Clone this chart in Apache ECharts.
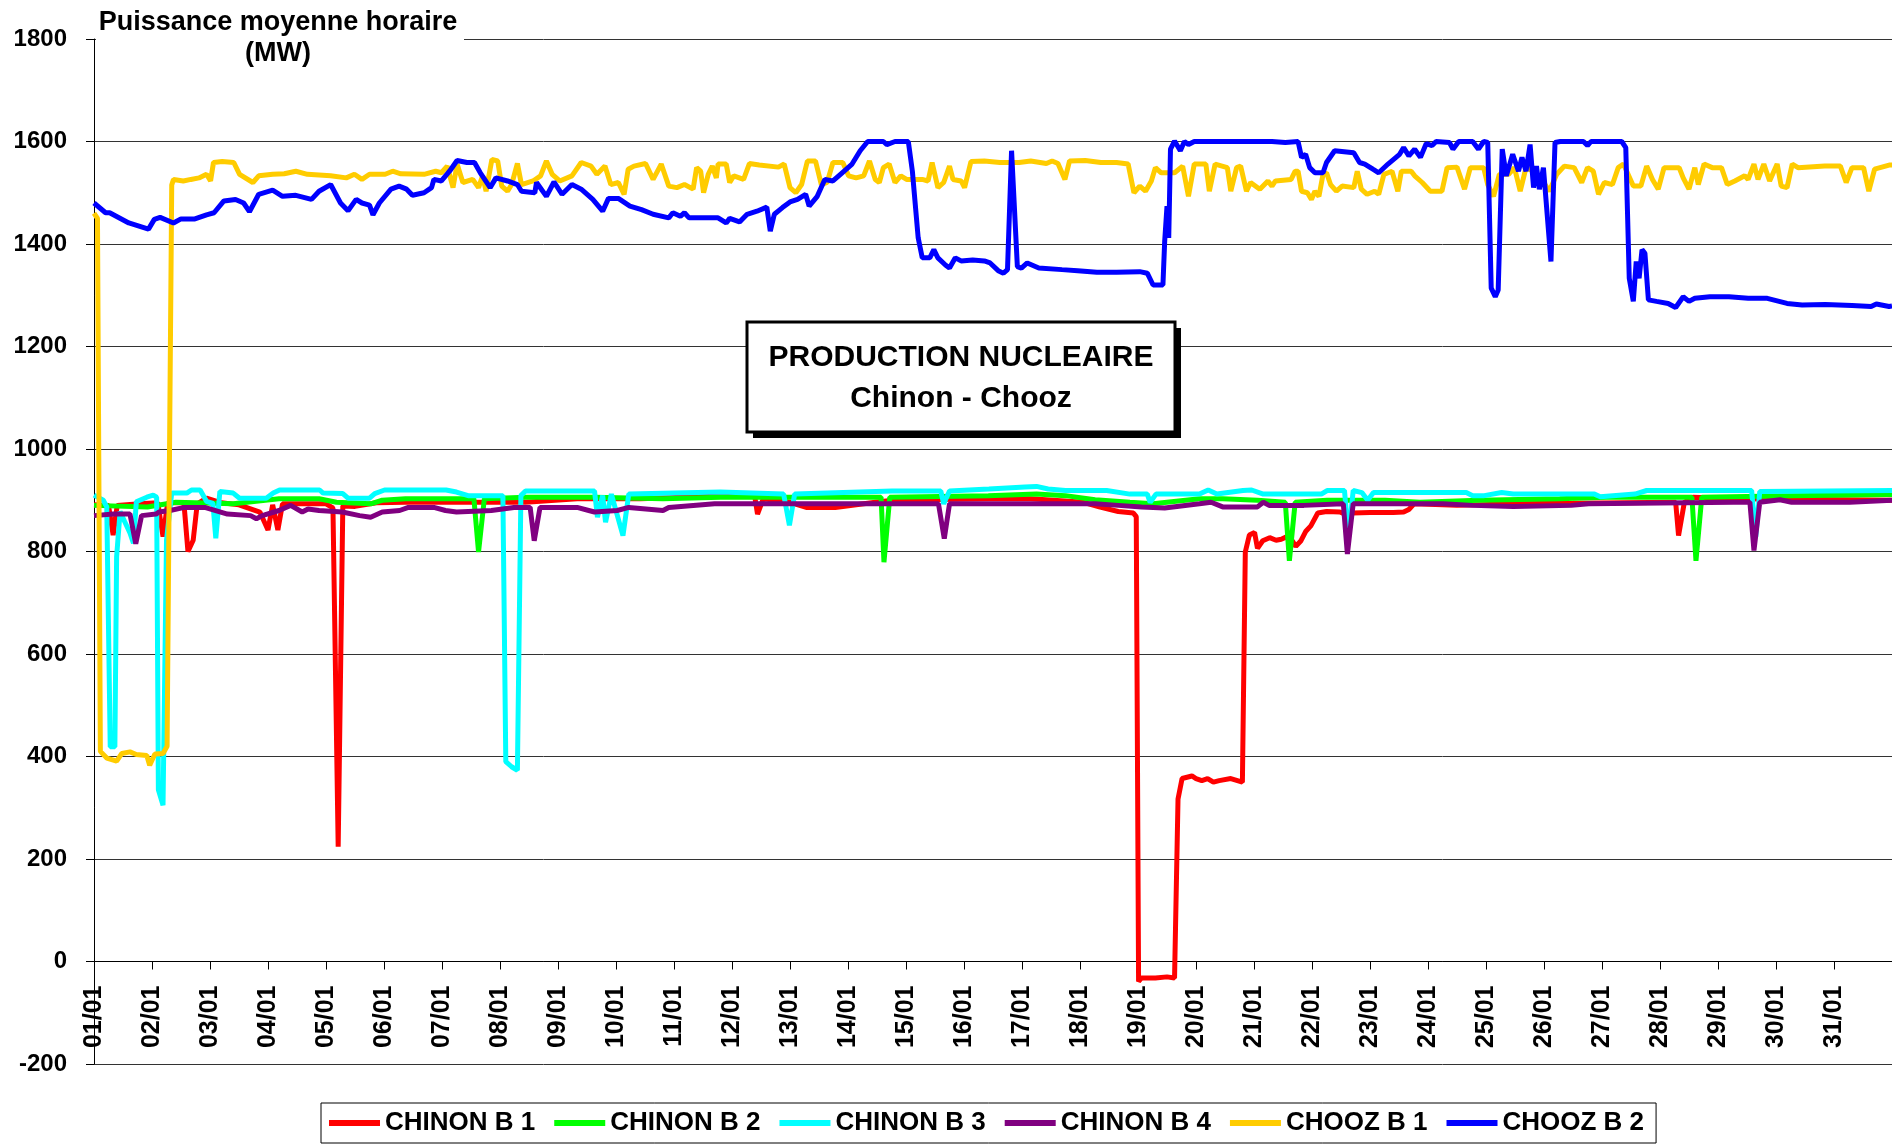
<!DOCTYPE html>
<html>
<head>
<meta charset="utf-8">
<script src="https://cdn.jsdelivr.net/npm/echarts@6/dist/echarts.min.js"></script>
<style>
html,body{margin:0;padding:0;background:#fff;}
#chart{width:1892px;height:1144px;}
</style>
</head>
<body>
<div id="chart"></div>
<script>
// Day index (0 = 01/01 00:00) and power in MW
const dayLabels = ['01/01','02/01','03/01','04/01','05/01','06/01','07/01','08/01','09/01','10/01',
  '11/01','12/01','13/01','14/01','15/01','16/01','17/01','18/01','19/01','20/01',
  '21/01','22/01','23/01','24/01','25/01','26/01','27/01','28/01','29/01','30/01','31/01'];
const seriesNames = ['CHINON B 1','CHINON B 2','CHINON B 3','CHINON B 4','CHOOZ B 1','CHOOZ B 2'];

const chinonB1 = [[0,891],[0.25,890],[0.33,832],[0.4,890],[0.79,893],[1.1,895],[1.19,829],[1.27,895],
  [1.55,895],[1.62,800],[1.71,822],[1.78,893],[1.94,904],[2.2,895],[2.5,891],[2.86,877],[3.0,842],
  [3.08,891],[3.17,842],[3.25,893],[4.0,893],[4.12,885],[4.21,224],[4.29,889],[4.5,888],[4.87,895],
  [5.37,896],[6.25,896],[6.85,896],[7.44,896],[8.33,903],[9.42,903],[10.9,909],[11.39,909],[11.44,873],
  [11.54,903],[12.0,896],[12.28,886],[12.78,886],[13.47,896],[13.77,900],[15.42,903],[16.15,903],
  [17.06,896],[17.33,887],[17.66,878],[17.92,875],[17.97,868],[18.01,-39],[18.06,-32],[18.3,-32],
  [18.5,-30],[18.63,-32],[18.69,317],[18.76,357],[18.93,362],[19.0,357],[19.1,353],[19.2,357],[19.3,350],
  [19.4,353],[19.6,357],[19.8,350],[19.85,799],[19.92,832],[20.01,837],[20.06,806],[20.15,821],[20.27,827],
  [20.38,822],[20.47,824],[20.55,828],[20.66,821],[20.72,810],[20.81,821],[20.89,839],[20.98,850],[21.1,875],
  [21.25,878],[21.48,877],[21.61,871],[21.7,875],[22.0,876],[22.4,876],[22.58,877],[22.67,882],[22.76,893],
  [23.5,890],[24.5,893],[25.5,894],[27.27,896],[27.32,831],[27.42,896],[27.57,906],[28.27,903],[31,900]];

const chinonB2 = [[0,890],[0.92,887],[1.41,896],[2.4,893],[3.19,903],[3.88,903],[4.18,896],[4.77,893],
  [4.97,900],[5.37,903],[6.55,903],[6.63,799],[6.73,903],[7.44,906],[8.63,906],[9.81,903],[10.8,906],
  [13.57,906],[13.62,779],[13.72,906],[15.42,909],[16.25,912],[16.75,909],[17.26,901],[17.86,896],
  [18.26,893],[19.06,903],[19.46,903],[20.06,900],[20.54,896],[20.61,782],[20.71,896],[21.26,900],
  [22.26,900],[22.86,896],[23.87,900],[25.27,903],[26.07,906],[27.55,906],[27.62,782],[27.72,906],
  [29.27,909],[31,911]];

const chinonB3 = [[0,910],[0.16,900],[0.22,887],[0.28,419],[0.36,419],[0.39,790],[0.45,878],[0.53,858],
  [0.62,836],[0.68,816],[0.73,897],[0.91,906],[1.02,910],[1.08,906],[1.11,335],[1.19,305],[1.25,822],
  [1.34,914],[1.6,914],[1.68,920],[1.83,920],[1.94,898],[2.05,894],[2.1,826],[2.17,917],[2.4,914],
  [2.51,904],[2.97,904],[3.09,914],[3.2,920],[3.89,920],[3.95,914],[4.29,913],[4.38,904],[4.75,904],
  [4.84,913],[5.01,920],[6.07,920],[6.25,916],[6.45,909],[7.05,909],[7.1,390],[7.2,380],[7.3,373],
  [7.36,909],[7.44,918],[8.63,918],[8.68,867],[8.77,909],[8.82,857],[8.92,912],[9.12,831],[9.22,912],
  [10.8,916],[11.89,912],[11.99,851],[12.08,912],[13.76,918],[14.6,918],[14.65,893],[14.75,918],
  [15.43,922],[16.05,926],[16.25,927],[16.45,922],[16.75,919],[17.46,919],[17.86,912],[18.16,912],
  [18.21,896],[18.31,912],[19.06,912],[19.21,920],[19.36,912],[19.81,919],[19.96,920],[20.16,912],
  [21.16,912],[21.26,919],[21.56,919],[21.63,828],[21.71,919],[21.86,915],[21.96,900],[22.06,915],
  [23.66,915],[23.77,909],[23.97,909],[24.27,915],[24.47,912],[25.87,912],[25.97,907],[26.57,912],
  [26.77,919],[28.58,919],[28.65,828],[28.72,917],[31,919]];

const chinonB4 = [[0,870],[0.33,873],[0.62,873],[0.72,815],[0.82,870],[1.07,873],[1.12,877],[1.31,880],
  [1.56,886],[1.91,886],[2.3,873],[2.7,870],[2.8,864],[2.9,870],[3.19,880],[3.39,890],[3.59,877],
  [3.69,883],[3.88,880],[4.28,877],[4.58,870],[4.77,867],[4.97,877],[5.27,880],[5.42,886],[5.86,886],
  [6.06,880],[6.25,877],[6.85,880],[7.24,886],[7.52,886],[7.59,821],[7.69,886],[8.33,886],[8.53,880],
  [8.63,877],[9.02,880],[9.22,886],[9.81,880],[9.91,886],[10.7,893],[14.56,893],[14.66,825],[14.75,893],
  [17.26,893],[17.66,890],[18.06,887],[18.46,885],[19.06,893],[19.26,896],[19.46,887],[20.06,887],
  [20.16,896],[20.26,890],[20.86,890],[21.54,893],[21.61,795],[21.71,893],[23.26,893],[23.77,890],
  [24.47,888],[25.47,890],[25.77,893],[28.27,896],[28.55,896],[28.62,802],[28.72,896],[29.07,901],
  [29.27,896],[30.27,896],[31,900]];

const choozB1 = [[0,1460],[0.06,1450],[0.11,410],[0.22,397],[0.39,391],[0.48,406],[0.62,409],[0.73,404],
  [0.91,402],[0.96,383],[1.05,405],[1.19,406],[1.26,420],[1.34,1515],[1.37,1526],[1.54,1523],[1.67,1526],
  [1.81,1529],[1.94,1536],[2.01,1523],[2.06,1559],[2.21,1561],[2.41,1559],[2.51,1536],[2.74,1520],
  [2.84,1533],[3.08,1536],[3.28,1537],[3.48,1542],[3.68,1536],[4.08,1533],[4.35,1529],[4.49,1536],
  [4.62,1526],[4.75,1536],[5.02,1536],[5.15,1542],[5.29,1537],[5.69,1536],[5.89,1542],[5.99,1539],
  [6.09,1552],[6.19,1510],[6.26,1556],[6.36,1520],[6.53,1526],[6.63,1510],[6.7,1533],[6.76,1503],
  [6.86,1565],[6.96,1562],[7.03,1513],[7.13,1503],[7.2,1516],[7.3,1557],[7.37,1516],[7.57,1523],
  [7.7,1533],[7.8,1562],[7.9,1536],[8.03,1523],[8.24,1533],[8.4,1559],[8.57,1552],[8.67,1536],
  [8.81,1552],[8.91,1516],[9.04,1520],[9.14,1497],[9.21,1546],[9.31,1552],[9.51,1557],[9.64,1526],
  [9.78,1556],[9.91,1513],[10.05,1510],[10.18,1516],[10.33,1507],[10.39,1549],[10.46,1542],[10.51,1500],
  [10.59,1536],[10.66,1552],[10.73,1529],[10.76,1556],[10.9,1556],[10.96,1520],[11.03,1533],[11.2,1526],
  [11.3,1557],[11.47,1554],[11.8,1550],[11.9,1556],[12.0,1510],[12.1,1500],[12.2,1516],[12.3,1562],
  [12.44,1562],[12.54,1516],[12.64,1520],[12.74,1559],[12.91,1559],[13.01,1533],[13.14,1529],[13.27,1533],
  [13.37,1562],[13.47,1526],[13.54,1520],[13.61,1549],[13.71,1556],[13.81,1520],[13.91,1533],[14.01,1526],
  [14.28,1526],[14.38,1523],[14.45,1559],[14.55,1510],[14.65,1520],[14.75,1552],[14.81,1526],[14.95,1523],
  [15.01,1510],[15.12,1561],[15.35,1562],[15.62,1559],[15.95,1559],[16.15,1562],[16.42,1557],[16.52,1562],
  [16.62,1557],[16.74,1526],[16.82,1562],[17.09,1563],[17.36,1559],[17.63,1559],[17.83,1556],[17.93,1500],
  [18.03,1513],[18.13,1503],[18.23,1523],[18.3,1549],[18.4,1539],[18.63,1539],[18.77,1552],[18.87,1493],
  [18.97,1556],[19.17,1556],[19.23,1503],[19.33,1556],[19.54,1549],[19.6,1503],[19.7,1549],[19.77,1552],
  [19.87,1503],[19.94,1520],[20.1,1507],[20.24,1523],[20.31,1513],[20.37,1523],[20.64,1526],[20.71,1542],
  [20.76,1542],[20.82,1503],[20.92,1500],[20.99,1487],[21.05,1503],[21.12,1493],[21.19,1536],[21.25,1539],
  [21.32,1516],[21.42,1503],[21.52,1513],[21.72,1510],[21.78,1542],[21.85,1507],[21.95,1497],[22.08,1503],
  [22.15,1497],[22.24,1536],[22.38,1542],[22.48,1503],[22.54,1542],[22.71,1542],[22.77,1533],[22.9,1520],
  [23.04,1503],[23.24,1503],[23.33,1549],[23.5,1550],[23.63,1507],[23.73,1549],[23.96,1549],[24.03,1516],
  [24.13,1493],[24.23,1536],[24.39,1536],[24.49,1549],[24.59,1503],[24.69,1549],[24.82,1542],[24.96,1526],
  [25.09,1503],[25.22,1536],[25.35,1552],[25.52,1549],[25.65,1520],[25.75,1549],[25.85,1542],[25.94,1497],
  [26.04,1520],[26.18,1516],[26.28,1549],[26.37,1556],[26.54,1513],[26.67,1513],[26.77,1552],[26.87,1526],
  [26.97,1507],[27.07,1549],[27.33,1549],[27.4,1529],[27.5,1507],[27.6,1549],[27.66,1516],[27.76,1556],
  [27.9,1549],[28.06,1549],[28.16,1516],[28.29,1523],[28.46,1533],[28.52,1526],[28.62,1556],[28.69,1526],
  [28.79,1556],[28.89,1523],[29.02,1556],[29.09,1513],[29.19,1510],[29.28,1556],[29.38,1549],[29.84,1552],
  [30.11,1552],[30.21,1520],[30.31,1549],[30.51,1549],[30.6,1503],[30.7,1546],[30.95,1554],[31,1554]];

const choozB2 = [[0,1480],[0.2,1461],[0.27,1461],[0.6,1441],[0.94,1429],[1.04,1448],[1.14,1452],[1.37,1441],
  [1.5,1449],[1.74,1449],[1.94,1457],[2.07,1461],[2.24,1484],[2.44,1487],[2.58,1480],[2.68,1463],[2.84,1497],
  [3.08,1505],[3.25,1493],[3.48,1495],[3.75,1487],[3.88,1503],[4.08,1516],[4.25,1480],[4.38,1465],[4.52,1487],
  [4.62,1480],[4.75,1476],[4.81,1457],[4.92,1480],[5.12,1507],[5.26,1513],[5.39,1507],[5.49,1495],[5.69,1500],
  [5.82,1510],[5.86,1526],[5.99,1523],[6.13,1542],[6.26,1563],[6.43,1559],[6.56,1559],[6.66,1539],[6.83,1510],
  [6.93,1529],[7.13,1523],[7.3,1516],[7.37,1503],[7.6,1500],[7.63,1520],[7.8,1493],[7.93,1521],[8.07,1497],
  [8.24,1516],[8.4,1507],[8.6,1487],[8.77,1464],[8.87,1489],[9.04,1489],[9.24,1474],[9.44,1467],[9.64,1458],
  [9.91,1451],[9.98,1461],[10.11,1454],[10.18,1461],[10.26,1451],[10.76,1451],[10.9,1441],[10.96,1450],
  [11.13,1443],[11.26,1458],[11.43,1464],[11.6,1472],[11.66,1425],[11.73,1458],[11.87,1471],[12.0,1482],
  [12.13,1487],[12.27,1497],[12.33,1474],[12.47,1493],[12.6,1526],[12.74,1523],[12.87,1536],[13.07,1556],
  [13.21,1582],[13.34,1600],[13.61,1600],[13.67,1594],[13.81,1600],[14.04,1600],[14.11,1542],[14.21,1412],
  [14.28,1373],[14.41,1373],[14.48,1389],[14.55,1373],[14.68,1359],[14.75,1353],[14.85,1373],[14.95,1367],
  [15.15,1369],[15.35,1367],[15.45,1363],[15.59,1348],[15.68,1343],[15.75,1350],[15.82,1582],[15.92,1356],
  [15.99,1353],[16.09,1363],[16.29,1353],[16.69,1350],[16.96,1348],[17.29,1345],[17.63,1345],[18.03,1346],
  [18.16,1343],[18.26,1320],[18.43,1320],[18.46,1405],[18.5,1474],[18.53,1412],[18.56,1585],[18.63,1601],
  [18.73,1582],[18.8,1600],[18.87,1594],[18.97,1600],[20.31,1600],[20.54,1598],[20.76,1600],[20.82,1569],
  [20.89,1575],[20.96,1549],[21.05,1539],[21.19,1539],[21.25,1559],[21.39,1582],[21.72,1578],[21.82,1559],
  [21.91,1556],[22.05,1546],[22.15,1539],[22.31,1556],[22.51,1575],[22.58,1588],[22.67,1572],[22.77,1585],
  [22.87,1569],[22.97,1596],[23.07,1592],[23.14,1600],[23.37,1598],[23.43,1585],[23.53,1600],[23.77,1600],
  [23.87,1585],[23.96,1600],[24.03,1598],[24.09,1314],[24.16,1297],[24.21,1310],[24.28,1585],[24.35,1533],
  [24.46,1575],[24.56,1542],[24.62,1569],[24.69,1542],[24.76,1594],[24.82,1510],[24.87,1552],[24.92,1507],
  [24.99,1549],[25.12,1366],[25.19,1598],[25.28,1600],[25.68,1600],[25.75,1592],[25.81,1600],[26.34,1600],
  [26.41,1588],[26.47,1333],[26.54,1288],[26.59,1366],[26.64,1333],[26.69,1389],[26.74,1382],[26.8,1291],
  [26.94,1288],[27.14,1284],[27.27,1276],[27.4,1297],[27.5,1288],[27.6,1294],[27.86,1297],[28.19,1297],
  [28.52,1294],[28.85,1294],[29.19,1284],[29.45,1281],[29.85,1282],[30.31,1280],[30.64,1278],[30.73,1283],
  [30.95,1278],[31,1279]];

const seriesData = [chinonB1, chinonB2, chinonB3, chinonB4, choozB1, choozB2];
const seriesColors = ['#FF0000','#00FF00','#00FFFF','#800080','#FFCC00','#0000FF'];

const FONT = '"Liberation Sans", Arial, sans-serif';
const chart = echarts.init(document.getElementById('chart'), null, {renderer: 'canvas'});

// grid: y from -200 (bottom) to 1800 (top); x-axis drawn at the value 0
const gridTop = 39, gridBottom = 80, chartH = 1144;
const plotH = chartH - gridTop - gridBottom;
const zeroOffset = plotH * 200 / 2000; // distance from -200 to 0

chart.setOption({
  animation: false,
  backgroundColor: '#ffffff',
  textStyle: {fontFamily: FONT},
  grid: {left: 94, right: 0, top: gridTop, bottom: gridBottom, containLabel: false},
  xAxis: {
    type: 'value', min: 0, max: 31, interval: 1,
    position: 'bottom', offset: -zeroOffset,
    axisLine: {show: true, onZero: false, lineStyle: {color: '#000', width: 1}},
    axisTick: {show: true, length: 8, lineStyle: {color: '#000'}},
    splitLine: {show: false},
    axisLabel: {
      rotate: 90, margin: 24, fontSize: 25, fontWeight: 'bold', color: '#000', fontFamily: FONT,
      showMaxLabel: false, hideOverlap: false,
      formatter: function (v) { return dayLabels[v] !== undefined ? dayLabels[v] : ''; }
    }
  },
  yAxis: {
    type: 'value', min: -200, max: 1800, interval: 200,
    axisLine: {show: true, lineStyle: {color: '#000', width: 1}},
    axisTick: {show: true, length: 8, lineStyle: {color: '#000'}},
    splitLine: {show: true, lineStyle: {color: '#333333', width: 1}},
    axisLabel: {margin: 27, fontSize: 24, fontWeight: 'bold', color: '#000', fontFamily: FONT,
      formatter: function (v) { return String(v); }}
  },
  legend: {
    data: seriesNames,
    left: 321, top: 1103,
    padding: [5, 12, 5, 8],
    borderColor: '#000', borderWidth: 1,
    backgroundColor: '#fff',
    icon: 'rect', itemWidth: 51, itemHeight: 6, itemGap: 19,
    textStyle: {fontSize: 26, fontWeight: 'bold', color: '#000', fontFamily: FONT, lineHeight: 30}
  },
  graphic: [
    {
      type: 'rect', z: 100, shape: {x: 96, y: 6, width: 368, height: 64}, style: {fill: '#fff'}
    },
    {
      type: 'text', x: 278, y: 23, z: 101,
      style: {text: 'Puissance moyenne horaire', font: 'bold 27px ' + FONT, fill: '#000',
        align: 'center', verticalAlign: 'middle'}
    },
    {
      type: 'text', x: 278, y: 54, z: 101,
      style: {text: '(MW)', font: 'bold 27px ' + FONT, fill: '#000',
        align: 'center', verticalAlign: 'middle'}
    },
    {type: 'rect', z: 100, shape: {x: 753, y: 328, width: 428, height: 110}, style: {fill: '#000'}},
    {type: 'rect', z: 100, shape: {x: 747, y: 322, width: 428, height: 110},
      style: {fill: '#fff', stroke: '#000', lineWidth: 3}},
    {type: 'text', x: 961, y: 358, z: 101,
      style: {text: 'PRODUCTION NUCLEAIRE', font: 'bold 30px ' + FONT, fill: '#000',
        align: 'center', verticalAlign: 'middle'}},
    {type: 'text', x: 961, y: 399, z: 101,
      style: {text: 'Chinon - Chooz', font: 'bold 30px ' + FONT, fill: '#000',
        align: 'center', verticalAlign: 'middle'}}
  ],
  series: seriesNames.map(function (name, i) {
    return {
      name: name, type: 'line', data: seriesData[i],
      showSymbol: false, symbol: 'none',
      color: seriesColors[i],
      lineStyle: {color: seriesColors[i], width: 5},
      emphasis: {disabled: true}
    };
  })
});
</script>
</body>
</html>
